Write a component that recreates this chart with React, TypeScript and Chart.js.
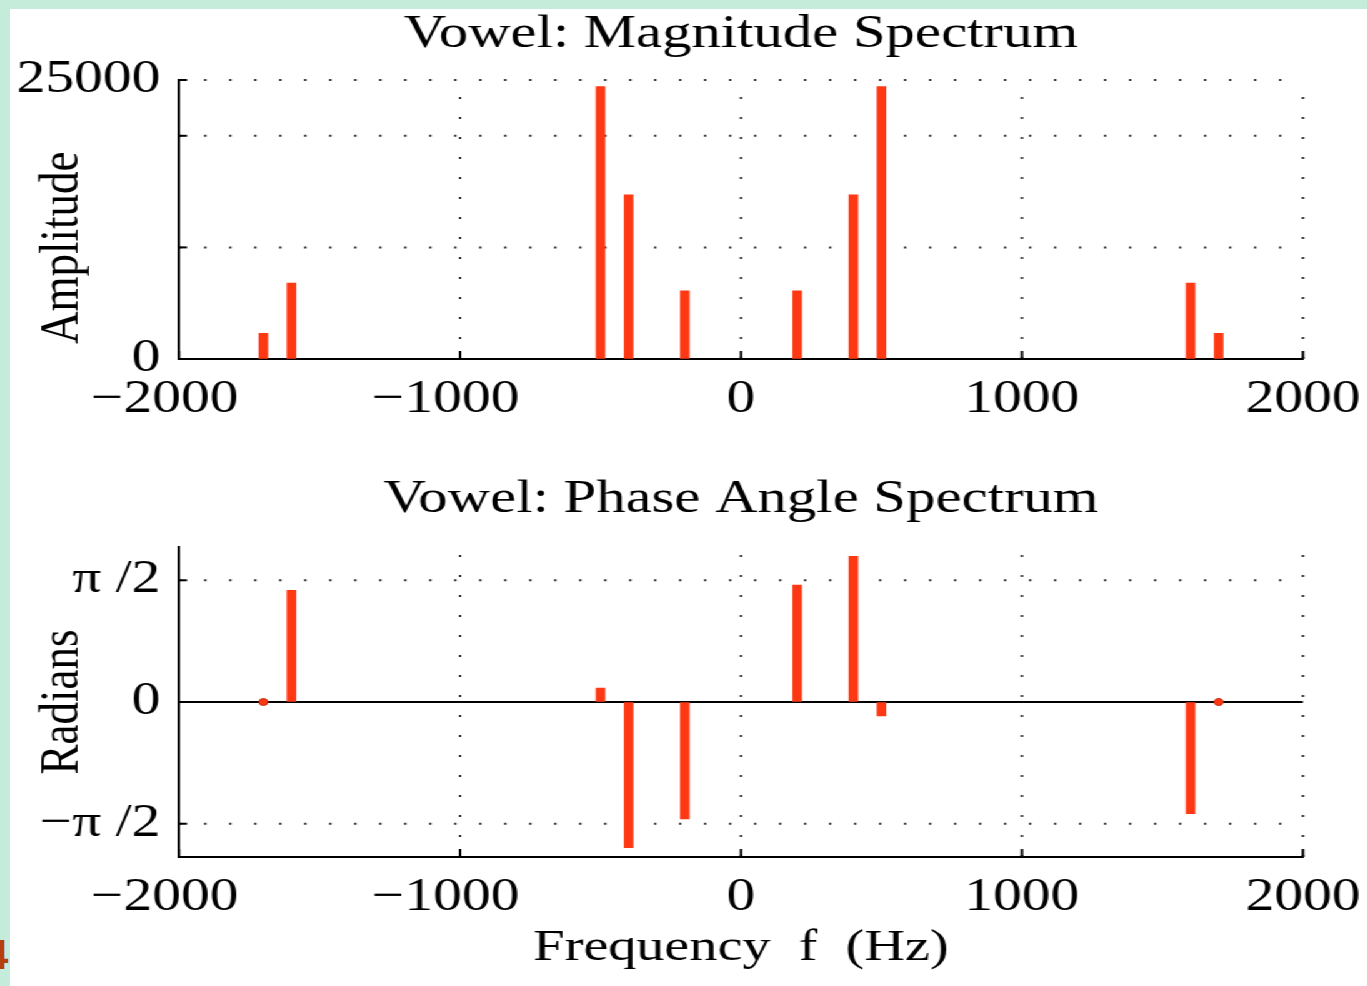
import React, { useEffect, useRef } from 'react';
import { Chart, registerables } from 'chart.js';

Chart.register(...registerables);

// ---- data ----
const FREQS = [-1700, -1600, -500, -400, -200, 200, 400, 500, 1600, 1700];
const MAGNITUDES = [2300, 6800, 24400, 14700, 6100, 6100, 14700, 24400, 6800, 2300];
const PHASES = [0, 1.44, 0.18, -1.88, -1.51, 1.51, 1.88, -0.18, -1.44, 0];

const X_TICKS = [-2000, -1000, 0, 1000, 2000];
const MAG_TICKS = [0, 10000, 20000, 25000];
const MAG_LABELED = [0, 25000];
const PHASE_TICKS = [-Math.PI / 2, 0, Math.PI / 2];
const PHASE_LABELS = ['−π\u2005/2', '0', 'π\u2005/2'];

const TITLE_MAG = 'Vowel: Magnitude Spectrum';
const TITLE_PHASE = 'Vowel: Phase Angle Spectrum';
const Y_TITLE_MAG = '\u2004Amplitude';
const Y_TITLE_PHASE = 'Radians';
const X_TITLE = 'Frequency  f  (Hz)';

// ---- style ----
const SX = 1.25;
const FONT = "'Liberation Serif', 'Times New Roman', serif";
const RED = '#ff3814';
const CANVAS_W = 1094;
const PAD_RIGHT = 51.6;
const Y_AXIS_W = 143.2;
const TICK_SIZE = 46;
const TITLE_SIZE = 47;

const matlabGrid = {
  id: 'matlabGrid',
  beforeDatasetsDraw(chart: any, _args: any, opts: any) {
    const { ctx, chartArea: a } = chart;
    const x = chart.scales.x;
    const y = chart.scales.y;
    ctx.save();
    ctx.lineWidth = 2;
    ctx.strokeStyle = '#333';
    ctx.setLineDash([2, 18]);
    for (const v of opts.xTicks) {
      if (v === x.min) continue;
      const px = x.getPixelForValue(v);
      ctx.beginPath();
      ctx.moveTo(px, a.bottom);
      ctx.lineTo(px, a.top);
      ctx.stroke();
    }
    for (const v of opts.yTicks) {
      if (v === y.min || v === opts.solidY) continue;
      const py = y.getPixelForValue(v);
      ctx.beginPath();
      ctx.moveTo(a.left, py);
      ctx.lineTo(a.right, py);
      ctx.stroke();
    }
    ctx.setLineDash([]);
    ctx.strokeStyle = '#000';
    if (opts.solidY !== undefined) {
      const py = y.getPixelForValue(opts.solidY);
      ctx.beginPath();
      ctx.moveTo(a.left, py);
      ctx.lineTo(a.right, py);
      ctx.stroke();
    }
    for (const v of opts.xTicks) {
      const px = x.getPixelForValue(v);
      ctx.beginPath();
      ctx.moveTo(px, a.bottom);
      ctx.lineTo(px, a.bottom - 8);
      ctx.stroke();
    }
    for (const v of opts.yTicks) {
      const py = y.getPixelForValue(v);
      ctx.beginPath();
      ctx.moveTo(a.left, py);
      ctx.lineTo(a.left + 6.4, py);
      ctx.stroke();
    }
    ctx.restore();
  },
};

const xLabel = (v: number) => (v < 0 ? '−' + Math.abs(v) + '\u2002' : String(v));

function makeXScale(height: number, title?: any) {
  return {
    type: 'linear',
    min: -2000,
    max: 2000,
    offset: false,
    afterBuildTicks: (s: any) => {
      s.ticks = X_TICKS.map((v) => ({ value: v }));
    },
    afterFit: (s: any) => {
      s.height = height;
      s.paddingLeft = 0;
      s.paddingRight = 0;
    },
    ticks: {
      autoSkip: false,
      maxRotation: 0,
      minRotation: 0,
      padding: 13,
      color: '#000',
      font: { family: FONT, size: TICK_SIZE },
      callback: (v: any) => xLabel(Number(v)),
    },
    grid: { display: true, color: 'rgba(0,0,0,0)', drawTicks: false, offset: false },
    border: { display: true, color: '#000', width: 2 },
    title: title || { display: false },
  };
}

function makeYScale(min: number, max: number, ticks: number[], label: (v: number, i: number) => string, title: any) {
  return {
    type: 'linear',
    min,
    max,
    afterBuildTicks: (s: any) => {
      s.ticks = ticks.map((v) => ({ value: v }));
    },
    afterFit: (s: any) => {
      s.width = Y_AXIS_W;
    },
    ticks: {
      autoSkip: false,
      padding: 15,
      color: '#000',
      font: { family: FONT, size: TICK_SIZE },
      callback: (v: any, i: number) => label(Number(v), i),
    },
    grid: { display: true, color: 'rgba(0,0,0,0)', drawTicks: false },
    border: { display: true, color: '#000', width: 2 },
    title,
  };
}

export default function App() {
  const topRef = useRef<HTMLCanvasElement>(null);
  const botRef = useRef<HTMLCanvasElement>(null);

  useEffect(() => {
    document.body.style.margin = '0';
    const magData = FREQS.map((f, i) => ({ x: f, y: MAGNITUDES[i] }));
    const phaseData = FREQS.map((f, i) => ({ x: f, y: PHASES[i] }));
    const zeroPhase = FREQS.filter((_f, i) => PHASES[i] === 0).map((f) => ({ x: f, y: 0 }));

    const top = new Chart(topRef.current as HTMLCanvasElement, {
      type: 'bar',
      data: {
        datasets: [
          {
            data: magData as any,
            backgroundColor: RED,
            borderWidth: 0,
            barThickness: 7,
          } as any,
        ],
      },
      options: {
        responsive: false,
        animation: false,
        devicePixelRatio: 1,
        layout: { padding: { left: 0, right: PAD_RIGHT, top: 0, bottom: 0 } },
        plugins: {
          legend: { display: false },
          tooltip: { enabled: false },
          title: {
            display: true,
            text: TITLE_MAG,
            fullSize: false,
            color: '#000',
            font: { family: FONT, size: TITLE_SIZE, weight: 'normal' },
            padding: { top: 6, bottom: 17.6 },
          },
          matlabGrid: { xTicks: X_TICKS, yTicks: MAG_TICKS },
        } as any,
        scales: {
          x: makeXScale(71) as any,
          y: makeYScale(0, 25000, MAG_TICKS, (v) => (MAG_LABELED.includes(v) ? String(v) : ''), {
            display: true,
            text: Y_TITLE_MAG,
            align: 'start',
            color: '#000',
            font: { family: FONT, size: 45, weight: 'normal' },
            padding: { top: 23, bottom: 0 },
          }) as any,
        },
      },
      plugins: [matlabGrid as any],
    });

    const bot = new Chart(botRef.current as HTMLCanvasElement, {
      type: 'bar',
      data: {
        datasets: [
          {
            data: phaseData as any,
            backgroundColor: RED,
            borderWidth: 0,
            barThickness: 7,
          } as any,
          {
            type: 'scatter',
            data: zeroPhase as any,
            backgroundColor: RED,
            borderColor: '#c8280a',
            borderWidth: 1,
            pointRadius: 3.5,
          } as any,
        ],
      },
      options: {
        responsive: false,
        animation: false,
        devicePixelRatio: 1,
        layout: { padding: { left: 0, right: PAD_RIGHT, top: 0, bottom: 0 } },
        plugins: {
          legend: { display: false },
          tooltip: { enabled: false },
          title: {
            display: true,
            text: TITLE_PHASE,
            fullSize: false,
            color: '#000',
            font: { family: FONT, size: TITLE_SIZE, weight: 'normal' },
            padding: { top: 31.6, bottom: 19 },
          },
          matlabGrid: { xTicks: X_TICKS, yTicks: PHASE_TICKS, solidY: 0 },
        } as any,
        scales: {
          x: makeXScale(129, {
            display: true,
            text: X_TITLE,
            color: '#000',
            font: { family: FONT, size: 45, weight: 'normal' },
            padding: { top: 0, bottom: 11 },
          }) as any,
          y: makeYScale(-2, 2, PHASE_TICKS, (_v, i) => PHASE_LABELS[i] ?? '', {
            display: true,
            text: Y_TITLE_PHASE,
            color: '#000',
            font: { family: FONT, size: 45, weight: 'normal' },
            padding: { top: 23, bottom: 0 },
          }) as any,
        },
      },
      plugins: [matlabGrid as any],
    });

    return () => {
      top.destroy();
      bot.destroy();
    };
  }, []);

  return (
    <div
      style={{
        position: 'absolute',
        left: 0,
        top: 0,
        width: 1367,
        height: 986,
        background: '#c5ecda',
        overflow: 'hidden',
      }}
    >
      <div style={{ position: 'absolute', left: 10, top: 9, right: 0, bottom: 0, background: '#fff' }} />
      <div
        style={{
          position: 'absolute',
          left: -15,
          top: 934,
          fontFamily: "'Liberation Sans', Arial, sans-serif",
          fontWeight: 'bold',
          fontSize: 42,
          lineHeight: '42px',
          color: '#b5400d',
        }}
      >
        4
      </div>
      <div
        style={{
          position: 'absolute',
          left: 0,
          top: 0,
          width: CANVAS_W,
          height: 986,
          transform: `scaleX(${SX})`,
          transformOrigin: '0 0',
        }}
      >
        <canvas
          ref={topRef}
          width={CANVAS_W}
          height={430}
          style={{ position: 'absolute', left: 0, top: 0, width: CANVAS_W, height: 430 }}
        />
        <canvas
          ref={botRef}
          width={CANVAS_W}
          height={546}
          style={{ position: 'absolute', left: 0, top: 440, width: CANVAS_W, height: 546 }}
        />
      </div>
    </div>
  );
}
